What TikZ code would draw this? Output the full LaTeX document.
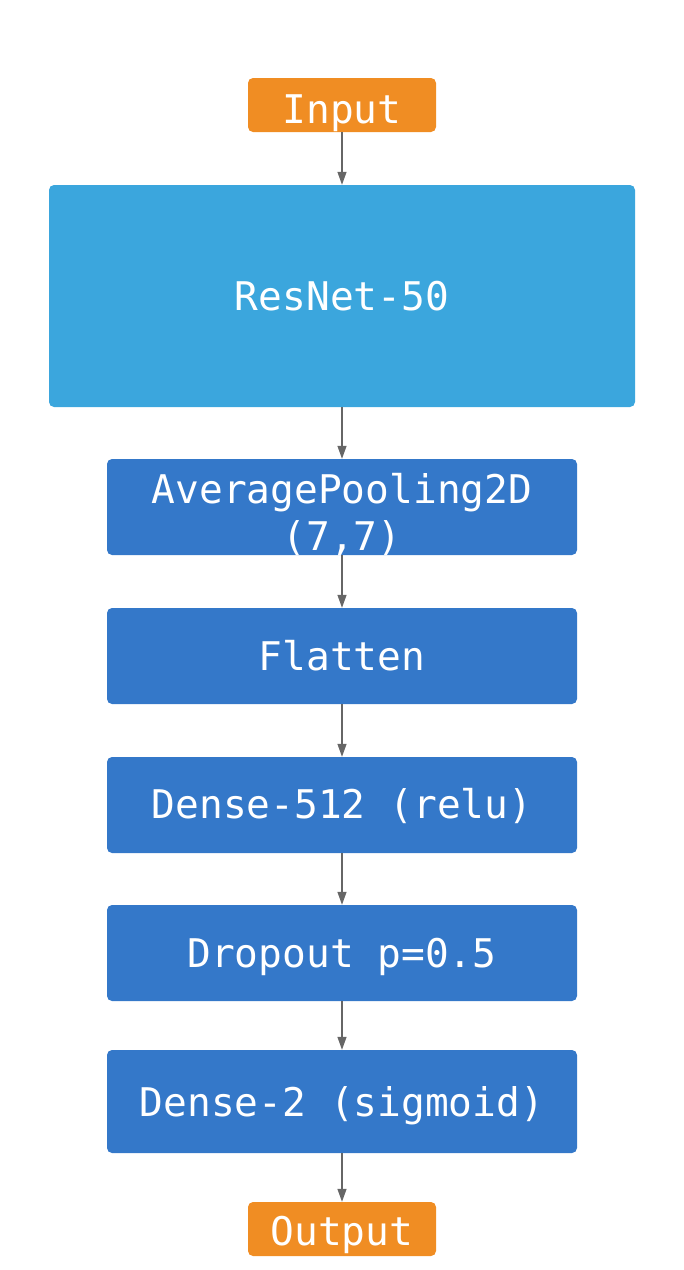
\documentclass[tikz,border=0pt]{standalone}
\usepackage{fontspec}
\setmonofont{DejaVu Sans Mono}
\usetikzlibrary{arrows.meta}
\definecolor{ioorange}{RGB}{240,141,35}
\definecolor{resblue}{RGB}{59,166,221}
\definecolor{layerblue}{RGB}{52,120,201}
\definecolor{arrowgray}{RGB}{102,102,102}
\tikzset{
  box/.style={draw=none, rounded corners=5pt, inner sep=0pt},
  iobox/.style={box, fill=ioorange, minimum width=188pt, minimum height=54pt},
  resbox/.style={box, fill=resblue, minimum width=586pt, minimum height=222pt},
  layerbox/.style={box, fill=layerblue, minimum width=470pt, minimum height=96pt},
  lbl/.style={anchor=base, text=white, inner sep=0pt, font=\ttfamily\fontsize{39.5}{47}\selectfont},
  conn/.style={draw=arrowgray, line width=1.3pt, -{Triangle[length=13pt,width=9pt]}}
}
\begin{document}
\begin{tikzpicture}[x=1pt,y=-1pt]
\useasboundingbox (0,0) rectangle (684,1270);
\node[iobox] (in) at (342,105) {};
\node[resbox] (res) at (342,296) {};
\node[layerbox] (avg) at (342,507) {};
\node[layerbox] (flat) at (342,656) {};
\node[layerbox] (d512) at (342,805) {};
\node[layerbox] (drop) at (342,953) {};
\node[layerbox, minimum height=103pt] (d2) at (342,1101.5) {};
\node[iobox] (out) at (342,1229) {};
\node[lbl] (tin) at (342,123) {Input};
\node[lbl] (tres) at (342,310) {ResNet-50};
\node[lbl] (tavg1) at (342,503) {AveragePooling2D};
\node[lbl] (tavg2) at (342,550) {(7,7)};
\node[lbl] (tflat) at (342,670) {Flatten};
\node[lbl] (td512) at (342,818) {Dense-512 (relu)};
\node[lbl] (tdrop) at (342,967) {Dropout p=0.5};
\node[lbl] (td2) at (342,1116) {Dense-2 (sigmoid)};
\node[lbl] (tout) at (342,1245) {Output};
\draw[conn] (in) -- (res);
\draw[conn] (res) -- (avg);
\draw[conn] (avg) -- (flat);
\draw[conn] (flat) -- (d512);
\draw[conn] (d512) -- (drop);
\draw[conn] (drop) -- (d2);
\draw[conn] (d2) -- (out);
\end{tikzpicture}
\end{document}
